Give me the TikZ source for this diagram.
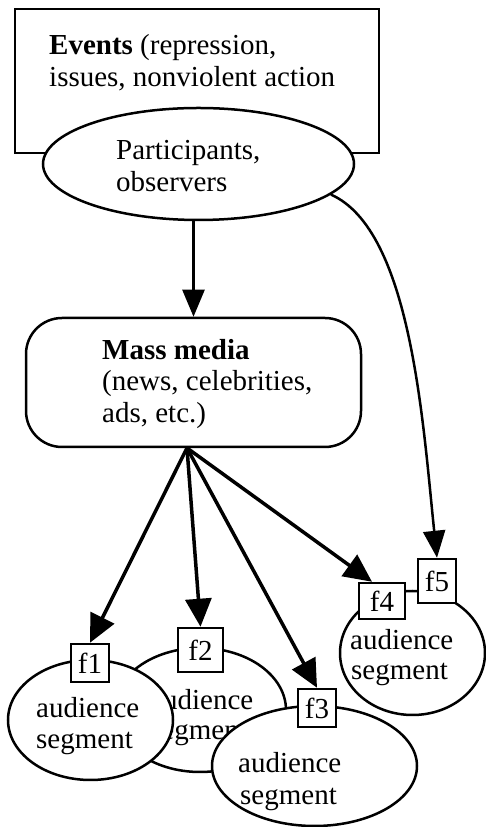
\documentclass[tikz,border=0pt]{standalone}
\usepackage{fontspec}
\setmainfont{Liberation Serif}
\usetikzlibrary{arrows.meta,shapes.geometric}
\begin{document}
\begin{tikzpicture}[x=1pt,y=1pt,
  txt/.style={anchor=base west,inner sep=0pt,font=\fontsize{29}{32}\selectfont},
  shapeline/.style={draw,line width=2.5pt,inner sep=0pt},
  oval/.style={shapeline,ellipse,fill=white},
  fbox/.style={shapeline,fill=white,font=\fontsize{29}{32}\selectfont},
  toparrow/.style={line width=2.5pt,-{Triangle[length=27pt,width=22pt]}},
  fanarrow/.style={line width=3.5pt,-{Triangle[length=28pt,width=26pt]}}]
\useasboundingbox (0,0) rectangle (486,827);

% Events box
\node[shapeline,minimum width=364pt,minimum height=144pt] (events) at (197,746) {};
\node[txt] (ev1) at (49,772) {\textbf{Events} (repression,};
\node[txt] (ev2) at (49,740) {issues, nonviolent action};

% Participants ellipse
\node[oval,minimum width=311pt,minimum height=112pt] (part) at (198.5,663) {};
\node[txt] (pa1) at (116,667) {Participants,};
\node[txt] (pa2) at (116,635) {observers};

% Mass media
\node[shapeline,rounded corners=36pt,minimum width=335pt,minimum height=129pt] (mm) at (193.5,444.5) {};
\node[txt] (mm1) at (102,467) {\textbf{Mass media}};
\node[txt] (mm2) at (102,436) {(news, celebrities,};
\node[txt] (mm3) at (102,404) {ads, etc.)};
\coordinate (fan) at (187,379);

% audience segments
\node[oval,minimum width=172pt,minimum height=124pt] (e2) at (200,117) {};
\node[txt] (e2a) at (150,117) {audience};
\node[txt] (e2b) at (150,87) {segment};

\node[oval,minimum width=165pt,minimum height=120pt] (e1) at (90.5,107) {};
\node[txt] (e1a) at (36,109) {audience};
\node[txt] (e1b) at (36,78) {segment};

\node[oval,minimum width=205pt,minimum height=120pt] (e3) at (314.5,61) {};
\node[txt] (e3a) at (238,54) {audience};
\node[txt] (e3b) at (240,22) {segment};

\node[oval,minimum width=145pt,minimum height=124pt] (e4) at (412.5,174) {};
\node[txt] (e4a) at (350,177) {audience};
\node[txt] (e4b) at (351,147) {segment};

% frame boxes
\node[fbox,minimum width=38pt,minimum height=38pt] (f1) at (90,164) {f1};
\node[fbox,minimum width=45pt,minimum height=44pt] (f2) at (200.5,177) {f2};
\node[fbox,minimum width=38pt,minimum height=38pt] (f3) at (317,119) {f3};
\node[fbox,minimum width=46pt,minimum height=36pt] (f4) at (382,226) {f4};
\node[fbox,minimum width=38pt,minimum height=44pt] (f5) at (437,246) {f5};

% connectors
\draw[toparrow] (part.south -| mm.north) -- (mm.north);
\draw[toparrow] (part.-13) .. controls +(-24:88) and +(96:135) .. (f5.north);
\draw[fanarrow] (fan) -- (f1.north);
\draw[fanarrow] (fan) -- (f2.north);
\draw[fanarrow] (fan) -- (f3.north);
\draw[fanarrow] (fan) -- ([xshift=-10pt]f4.north);
\end{tikzpicture}
\end{document}
